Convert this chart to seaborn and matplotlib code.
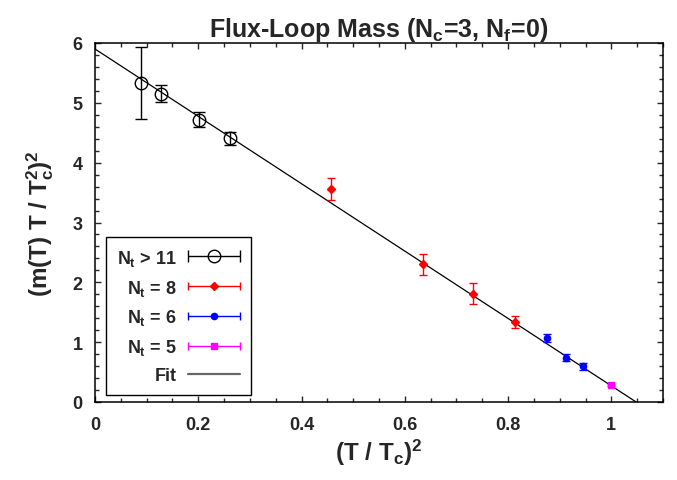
import numpy as np
import pandas as pd
import matplotlib
matplotlib.use("Agg")
import matplotlib.pyplot as plt
from matplotlib.ticker import MultipleLocator, FuncFormatter
from matplotlib.legend_handler import HandlerErrorbar
from matplotlib.container import ErrorbarContainer
import seaborn as sns

# ---- data ----
x_big = [0.089, 0.128, 0.201, 0.262]
y_big = [5.33, 5.15, 4.72, 4.41]
e_big = [0.60, 0.14, 0.12, 0.11]

x_n8 = [0.458, 0.636, 0.733, 0.813]
y_n8 = [3.56, 2.30, 1.81, 1.34]
e_n8 = [0.19, 0.17, 0.18, 0.10]

x_n6 = [0.875, 0.913, 0.945]
y_n6 = [1.07, 0.74, 0.60]
e_n6 = [0.07, 0.06, 0.06]

x_n5 = [1.0]
y_n5 = [0.28]
e_n5 = [0.02]

fit_intercept = 5.90
fit_slope = -5.63

labels = [r"$N_t$ > 11", r"$N_t$ = 8", r"$N_t$ = 6", r"$N_t$ = 5", "Fit"]

# ---- style ----
sns.set_style("ticks")
plt.rcParams["font.family"] = ["Liberation Sans", "DejaVu Sans"]
plt.rcParams["font.weight"] = "bold"
plt.rcParams["mathtext.fontset"] = "custom"
plt.rcParams["mathtext.rm"] = "Liberation Sans:bold"
plt.rcParams["mathtext.it"] = "Liberation Sans:bold"
plt.rcParams["mathtext.bf"] = "Liberation Sans:bold"
plt.rcParams["mathtext.sf"] = "Liberation Sans:bold"

fig = plt.figure(figsize=(6.77, 4.81), dpi=100)
ax = fig.add_axes([95/677, 1-403/481, (663-95)/677, (403-44)/481])

# fit line via seaborn
x_end = -fit_intercept / fit_slope
fit_df = pd.DataFrame({"x": [0.0, x_end]})
fit_df["y"] = fit_intercept + fit_slope * fit_df["x"]
sns.lineplot(data=fit_df, x="x", y="y", ax=ax, color="black", lw=0.9, zorder=1)

series = [
    (x_big, y_big, e_big, dict(fmt="o", color="black", mfc="none", mec="black", ms=9, mew=1.0, capsize=4, elinewidth=1.0, capthick=1.0)),
    (x_n8, y_n8, e_n8, dict(fmt="D", color="red", ms=4, capsize=3, elinewidth=1.0, capthick=1.0)),
    (x_n6, y_n6, e_n6, dict(fmt="o", color="blue", ms=4.5, capsize=3, elinewidth=1.0, capthick=1.0)),
    (x_n5, y_n5, e_n5, dict(fmt="s", color="magenta", ms=4, capsize=3, elinewidth=1.0, capthick=1.0)),
]

handles = []
for xs, ys, es, kw in series:
    ax.errorbar(xs, ys, yerr=es, zorder=3, **kw)
    h = ax.errorbar([np.nan], [np.nan], xerr=[1.0], **kw)
    handles.append(h)

fit_handle = plt.Line2D([], [], color="0.4", lw=1.6)
handles.append(fit_handle)

ax.set_xlim(0, 1.1)
ax.set_ylim(0, 6)
ax.xaxis.set_major_locator(MultipleLocator(0.2))
ax.xaxis.set_minor_locator(MultipleLocator(0.05))
ax.yaxis.set_major_locator(MultipleLocator(1))
ax.yaxis.set_minor_locator(MultipleLocator(0.2))
fmt = FuncFormatter(lambda v, p: "%g" % round(v, 3))
ax.xaxis.set_major_formatter(fmt)
ax.yaxis.set_major_formatter(fmt)
ax.tick_params(which="both", direction="in", top=True, right=True, width=1.0)
ax.tick_params(which="major", length=4, labelsize=13)
ax.tick_params(which="minor", length=3)
ax.tick_params(axis="x", which="major", pad=10)
ax.tick_params(axis="y", which="major", pad=9)
for lab in ax.get_xticklabels() + ax.get_yticklabels():
    lab.set_fontweight("bold")
for s in ax.spines.values():
    s.set_linewidth(1.1)
    s.set_color("black")

ax.set_xlabel(r"(T / T$_c$)$^2$", fontsize=17.5, fontweight="bold", labelpad=3)
ax.set_ylabel(r"(m(T) T / T$_c^2$)$^2$", fontsize=17.5, fontweight="bold", labelpad=12)
ax.set_title(r"Flux-Loop Mass (N$_c$=3, N$_f$=0)", fontsize=18, fontweight="bold", pad=5)

leg = ax.legend(handles, labels, loc="lower left", bbox_to_anchor=(0.019, 0.019),
                markerfirst=False, fontsize=13, frameon=True, fancybox=False,
                edgecolor="black", framealpha=1, handlelength=2.9, handletextpad=0.65,
                labelspacing=0.55, borderpad=0.6, borderaxespad=0,
                handler_map={ErrorbarContainer: HandlerErrorbar(xerr_size=1.45)})
leg.get_frame().set_linewidth(1.0)
for t in leg.get_texts():
    t.set_fontweight("bold")
leg._legend_box.align = "right"

fig.savefig("out.png", dpi=100)
